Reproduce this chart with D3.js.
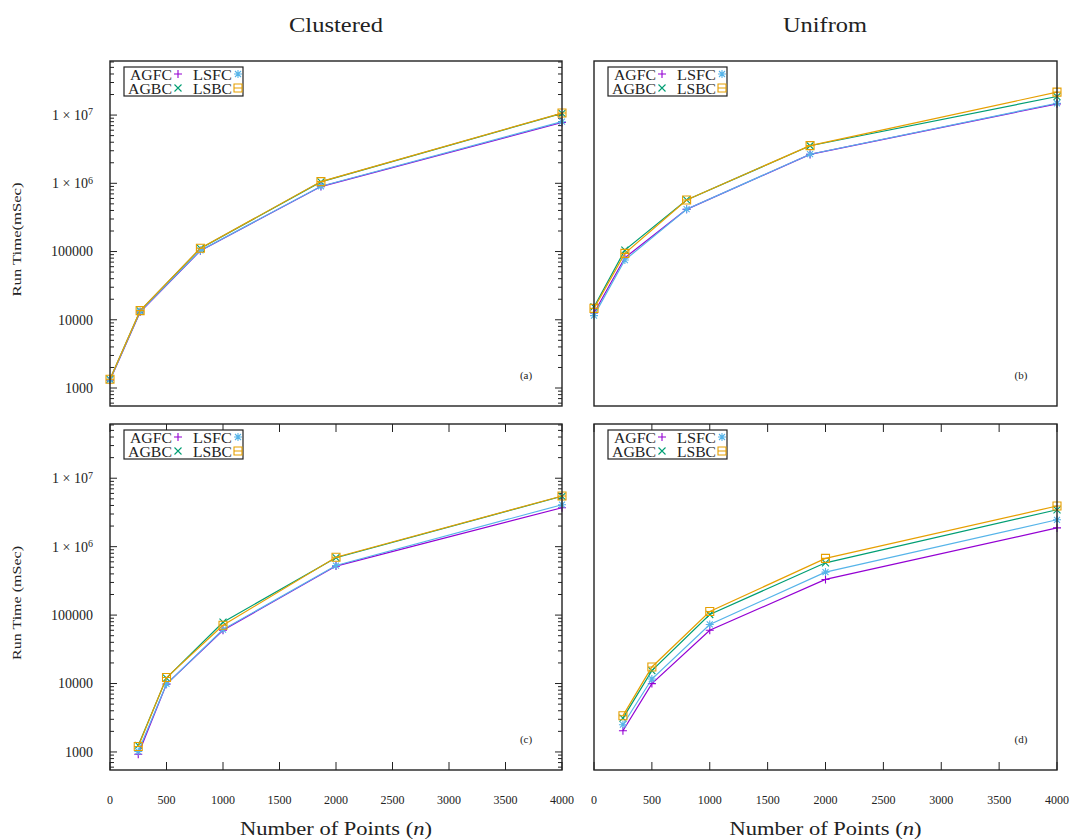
<!DOCTYPE html>
<html><head><meta charset="utf-8">
<script src="https://cdn.jsdelivr.net/npm/d3@7"></script>
<style>body{margin:0;background:#fff}</style>
</head><body>
<script>
// ---------- data ----------
const nPoints = [250, 500, 1000, 2000, 4000];
const seriesNames = ["AGFC", "AGBC", "LSFC", "LSBC"];
const xTickValues = [0, 500, 1000, 1500, 2000, 2500, 3000, 3500, 4000];
const yLabelValues = [1000, 10000, 100000, 1e6, 1e7];
const columnTitles = ["Clustered", "Unifrom"];
const panelLabels = ["(a)", "(b)", "(c)", "(d)"];

// (a) Clustered, top
const aAGFC = [1300, 13000, 103000, 895000, 7.8e6];
const aAGBC = [1340, 13500, 111000, 1.05e6, 1.06e7];
const aLSFC = [1310, 13200, 104000, 905000, 8.0e6];
const aLSBC = [1345, 13600, 112000, 1.06e6, 1.07e7];
// (b) Uniform, top
const bAGFC = [12600, 81000, 415000, 2.65e6, 1.46e7];
const bAGBC = [15400, 105000, 570000, 3.55e6, 1.87e7];
const bLSFC = [11500, 75000, 417000, 2.67e6, 1.49e7];
const bLSBC = [14700, 94000, 570000, 3.57e6, 2.17e7];
// (c) Clustered, bottom
const cAGFC = [925, 9800, 60000, 520000, 3.7e6];
const cAGBC = [1245, 12000, 78700, 690000, 5.45e6];
const cLSFC = [1017, 9850, 61500, 530000, 4.1e6];
const cLSBC = [1200, 12240, 71100, 700000, 5.5e6];
// (d) Uniform, bottom
const dAGFC = [2040, 9970, 60000, 332000, 1.88e6];
const dAGBC = [3125, 15450, 102000, 581000, 3.46e6];
const dLSFC = [2500, 11640, 73000, 425000, 2.47e6];
const dLSBC = [3390, 17450, 113000, 674000, 3.93e6];

// ---------- drawing ----------
const W = 1073, H = 839;
const font = "'Liberation Serif', 'DejaVu Serif', serif";
const txt = "#222";
const colors = {AGFC: "#9400d3", AGBC: "#009e73", LSFC: "#56b4e9", LSBC: "#e69f00"};
const symbols = {
  AGFC: "M-4,0H4M0,-4V4",
  AGBC: "M-3.5,-3.5L3.5,3.5M-3.5,3.5L3.5,-3.5",
  LSFC: "M-4,0H4M0,-4V4M-3,-3L3,3M-3,3L3,-3",
  LSBC: "M-4,-4H4V4H-4ZM-4,0H4"
};
const yDomain = [545, 6.2e7];

const panels = [
  {label: panelLabels[0], left: 110, right: 562, top: 61, bottom: 406, xDomain: [250, 4000],
   data: {AGFC: aAGFC, AGBC: aAGBC, LSFC: aLSFC, LSBC: aLSBC},
   yTicks: true, yLabels: true, xTicks: false, xLabels: false, yTitle: "Run Time(mSec)"},
  {label: panelLabels[1], left: 594, right: 1057, top: 61, bottom: 406, xDomain: [250, 4000],
   data: {AGFC: bAGFC, AGBC: bAGBC, LSFC: bLSFC, LSBC: bLSBC},
   yTicks: false, yLabels: false, xTicks: false, xLabels: false},
  {label: panelLabels[2], left: 110, right: 562, top: 424, bottom: 770, xDomain: [0, 4000],
   data: {AGFC: cAGFC, AGBC: cAGBC, LSFC: cLSFC, LSBC: cLSBC},
   yTicks: true, yLabels: true, xTicks: true, xLabels: true, yTitle: "Run Time (mSec)"},
  {label: panelLabels[3], left: 594, right: 1057, top: 424, bottom: 770, xDomain: [0, 4000],
   data: {AGFC: dAGFC, AGBC: dAGBC, LSFC: dLSFC, LSBC: dLSBC},
   yTicks: false, yLabels: false, xTicks: true, xLabels: true}
];

const svg = d3.select("body").append("svg").attr("width", W).attr("height", H)
  .style("font-family", font);

panels.forEach(p => {
  const x = d3.scaleLinear().domain(p.xDomain).range([p.left, p.right]);
  const y = d3.scaleLog().domain(yDomain).range([p.bottom, p.top]);
  const g = svg.append("g");

  // ticks
  if (p.yTicks) {
    const ticks = y.ticks();
    ticks.forEach(t => {
      const major = Math.abs(Math.log10(t) - Math.round(Math.log10(t))) < 1e-9;
      const len = major ? 7 : 4;
      const yy = y(t);
      g.append("line").attr("x1", p.left).attr("x2", p.left + len).attr("y1", yy).attr("y2", yy)
        .attr("stroke", "#222").attr("stroke-width", 1);
      g.append("line").attr("x1", p.right).attr("x2", p.right - len).attr("y1", yy).attr("y2", yy)
        .attr("stroke", "#222").attr("stroke-width", 1);
    });
  }
  if (p.yLabels) {
    yLabelValues.forEach(v => {
      const e = Math.round(Math.log10(v));
      const t = g.append("text").attr("x", p.left - 17).attr("y", y(v)).attr("dy", "0.35em")
        .attr("text-anchor", "end").attr("font-size", 14).attr("fill", txt);
      if (v >= 1e6) {
        t.append("tspan").text("1 × 10");
        t.append("tspan").attr("dy", "-0.45em").attr("font-size", 10).text(e);
      } else {
        t.text(String(v));
      }
    });
  }
  if (p.xTicks) {
    xTickValues.forEach(v => {
      const xx = x(v);
      g.append("line").attr("x1", xx).attr("x2", xx).attr("y1", p.bottom).attr("y2", p.bottom - 8)
        .attr("stroke", "#222").attr("stroke-width", 1);
      g.append("line").attr("x1", xx).attr("x2", xx).attr("y1", p.top).attr("y2", p.top + 8)
        .attr("stroke", "#222").attr("stroke-width", 1);
    });
  }
  if (p.xLabels) {
    xTickValues.forEach(v => {
      g.append("text").attr("x", x(v)).attr("y", p.bottom + 30).attr("dy", "0.35em")
        .attr("text-anchor", "middle").attr("font-size", 12).attr("fill", txt).text(v);
    });
    const lab = g.append("text").attr("x", (p.left + p.right) / 2).attr("y", p.bottom + 65)
      .attr("text-anchor", "middle").attr("font-size", 19).attr("fill", txt)
      .attr("textLength", 192).attr("lengthAdjust", "spacingAndGlyphs");
    lab.append("tspan").text("Number of Points (");
    lab.append("tspan").attr("font-style", "italic").text("n");
    lab.append("tspan").text(")");
  }
  if (p.yTitle) {
    const cy = (p.top + p.bottom) / 2 + 6;
    g.append("text").attr("transform", `translate(21,${cy}) rotate(-90)`)
      .attr("text-anchor", "middle").attr("font-size", 12.5).attr("fill", txt)
      .attr("textLength", 114).attr("lengthAdjust", "spacingAndGlyphs").text(p.yTitle);
  }

  // series lines and points
  const line = d3.line().x((d, i) => x(nPoints[i])).y(d => y(d));
  seriesNames.forEach(s => {
    const vals = p.data[s];
    g.append("path").attr("d", line(vals)).attr("fill", "none")
      .attr("stroke", colors[s]).attr("stroke-width", 1.2);
    g.selectAll(null).data(vals).enter().append("path")
      .attr("transform", (d, i) => `translate(${x(nPoints[i])},${y(d)})`)
      .attr("d", symbols[s]).attr("fill", "none").attr("stroke", colors[s]).attr("stroke-width", 1.1);
  });

  // border
  g.append("rect").attr("x", p.left).attr("y", p.top).attr("width", p.right - p.left)
    .attr("height", p.bottom - p.top).attr("fill", "none").attr("stroke", "#222").attr("stroke-width", 1.4);

  // legend
  const lx = p.left + 14, ly = p.top + 6;
  const lg = g.append("g");
  lg.append("rect").attr("x", lx).attr("y", ly).attr("width", 119).attr("height", 29)
    .attr("fill", "#fff").attr("stroke", "#222").attr("stroke-width", 1.2);
  const legendPos = {
    AGFC: [0, 0, 42], AGBC: [0, 1, 44], LSFC: [1, 0, 39], LSBC: [1, 1, 39]
  };
  seriesNames.forEach(s => {
    const [col, row, tl] = legendPos[s];
    const tx = lx + (col ? 108 : 48);
    const ty = ly + 8 + row * 14;
    lg.append("text").attr("x", tx).attr("y", ty).attr("dy", "0.35em").attr("text-anchor", "end")
      .attr("font-size", 14).attr("fill", txt).attr("textLength", tl)
      .attr("lengthAdjust", "spacingAndGlyphs").text(s);
    lg.append("path").attr("transform", `translate(${tx + 6},${ty - 1})`).attr("d", symbols[s])
      .attr("fill", "none").attr("stroke", colors[s]).attr("stroke-width", 1.1);
  });

  // panel label
  g.append("text").attr("x", p.right - 36).attr("y", p.bottom - 31).attr("dy", "0.35em")
    .attr("text-anchor", "middle").attr("font-size", 11).attr("fill", txt).text(p.label);
});

// column titles
svg.append("text").attr("x", 336).attr("y", 25).attr("dy", "0.35em").attr("text-anchor", "middle")
  .attr("font-size", 21).attr("fill", txt).attr("textLength", 94)
  .attr("lengthAdjust", "spacingAndGlyphs").text(columnTitles[0]);
svg.append("text").attr("x", 825).attr("y", 25).attr("dy", "0.35em").attr("text-anchor", "middle")
  .attr("font-size", 21).attr("fill", txt).attr("textLength", 84)
  .attr("lengthAdjust", "spacingAndGlyphs").text(columnTitles[1]);
</script>
</body></html>
